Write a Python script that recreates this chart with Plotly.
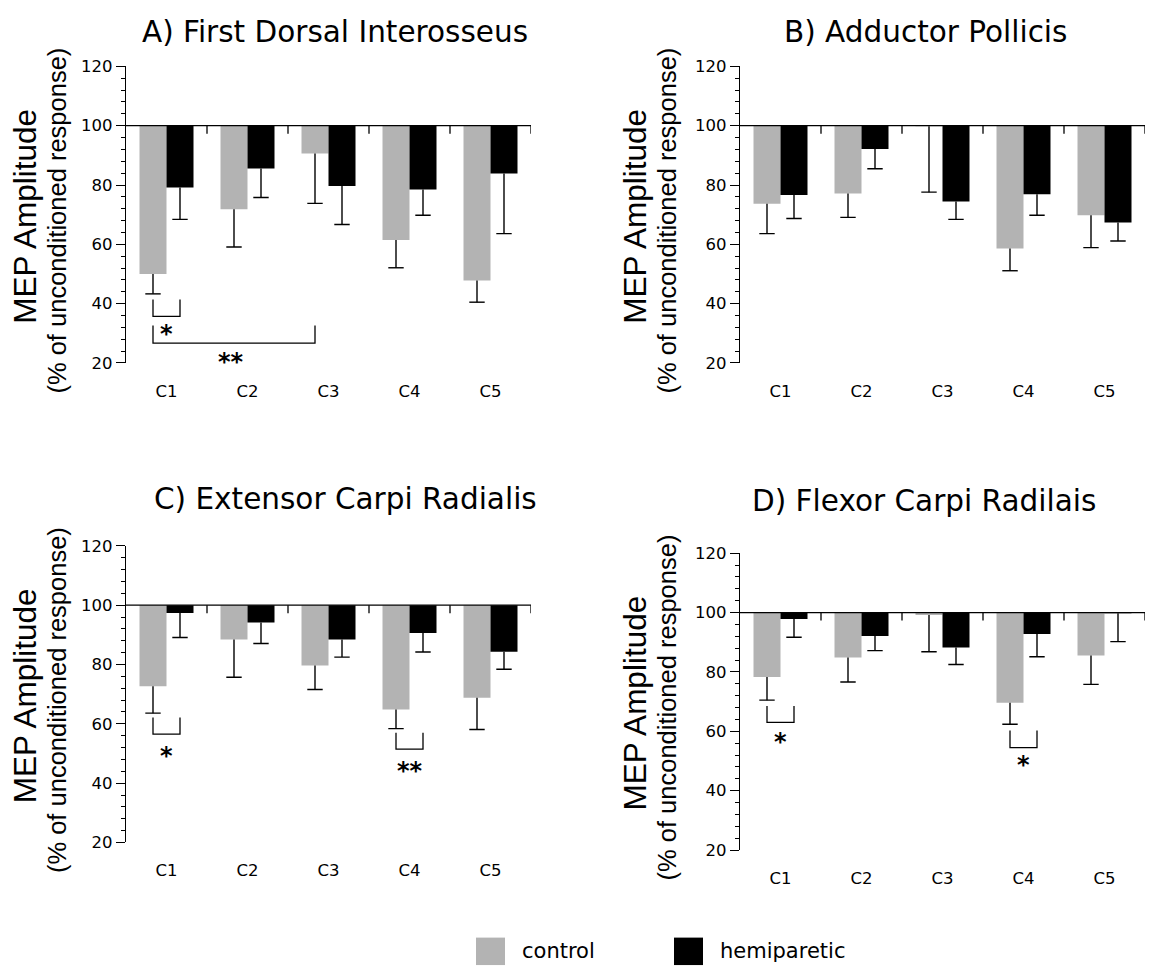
import plotly.graph_objects as go

W, H = 1149, 978

categories = ["C1", "C2", "C3", "C4", "C5"]
cat_pos = [0, 1, 2, 3, 4]
series_names = ["control", "hemiparetic"]
panel_titles = ["A) First Dorsal Interosseus", "B) Adductor Pollicis",
                "C) Extensor Carpi Radialis", "D) Flexor Carpi Radilais"]
y_title_1 = "MEP Amplitude"
y_title_2 = "(% of unconditioned response)"

# values (% of unconditioned response), error = SE (downward)
a_control = [50.0, 71.8, 90.6, 61.5, 47.8]
a_control_err = [6.7, 12.7, 16.8, 9.4, 7.3]
a_hemi = [79.2, 85.6, 79.7, 78.5, 83.9]
a_hemi_err = [10.8, 9.8, 13.0, 8.7, 20.3]

b_control = [73.7, 77.1, 99.8, 58.6, 69.8]
b_control_err = [10.1, 8.0, 22.2, 7.5, 10.9]
b_hemi = [76.6, 92.1, 74.4, 76.9, 67.4]
b_hemi_err = [7.9, 6.6, 6.0, 7.1, 6.3]

c_control = [72.7, 88.4, 79.7, 64.8, 68.8]
c_control_err = [9.1, 12.7, 8.1, 6.4, 10.7]
c_hemi = [97.4, 94.2, 88.4, 90.6, 84.3]
c_hemi_err = [8.3, 7.1, 5.9, 6.4, 5.9]

d_control = [78.3, 84.9, 99.2, 69.6, 85.5]
d_control_err = [7.8, 8.3, 12.4, 7.2, 9.7]
d_hemi = [97.8, 92.1, 88.2, 92.8, 99.8]
d_hemi_err = [6.1, 4.9, 5.7, 7.7, 9.6]

# significance brackets: (panel, left cat, left series, right cat, right series, top, bottom, label, label x, label y)
brackets = [
    (0, 0, 0, 0, 1, 41.4, 35.7, "*", 0.0, 31.6),
    (0, 0, 0, 2, 0, 32.6, 26.7, "**", 0.8, 22.0),
    (2, 0, 0, 0, 1, 62.1, 56.5, "*", 0.0, 50.9),
    (2, 3, 0, 3, 1, 57.0, 51.5, "**", 3.0, 45.9),
    (3, 0, 0, 0, 1, 68.5, 63.0, "*", 0.0, 58.1),
    (3, 3, 0, 3, 1, 60.3, 54.5, "*", 3.0, 50.3),
]

panels = [
    (a_control, a_control_err, a_hemi, a_hemi_err),
    (b_control, b_control_err, b_hemi, b_hemi_err),
    (c_control, c_control_err, c_hemi, c_hemi_err),
    (d_control, d_control_err, d_hemi, d_hemi_err),
]

# ---- layout geometry (pixels) ----
px_boxes = [  # x0, x1, ytop, ybottom
    (126, 531, 58.5, 361.0),
    (740, 1145, 58.5, 361.0),
    (126, 531, 547.5, 850.0),
    (740, 1145, 555.0, 857.7),
]
title_pos = [(335, 23), (925, 23), (345, 500), (924, 502)]
ytitle_x = [(25, 57), (635, 667), (25, 57), (635, 667)]

GRAY = "#b3b3b3"
BLACK = "#000000"
colors = [GRAY, BLACK]
BAR_W = 1 / 3
offsets = [-BAR_W, 0.0]
HFONT = "DejaVu Sans"
VFONT = "Liberation Sans, Arial"

fig = go.Figure()
shapes = []
annotations = []

for p, (cv, ce, hv, he) in enumerate(panels):
    n = p + 1
    xa = "x" if n == 1 else f"x{n}"
    ya = "y" if n == 1 else f"y{n}"
    for s, (vals, errs) in enumerate([(cv, ce), (hv, he)]):
        fig.add_trace(go.Bar(
            x=cat_pos, y=[v - 100 for v in vals], base=100,
            width=BAR_W, offset=offsets[s],
            marker=dict(color=colors[s], line=dict(width=0)),
            name=series_names[s], showlegend=False,
            xaxis=xa, yaxis=ya,
        ))
        centers = [c + offsets[s] + BAR_W / 2 for c in cat_pos]
        lx, ly = [], []
        for c, v, e in zip(centers, vals, errs):
            lx += [c, c, None]
            ly += [v, v - e, None]
        fig.add_trace(go.Scatter(
            x=lx, y=ly, mode="lines", line=dict(color=BLACK, width=1.4),
            showlegend=False, hoverinfo="skip", xaxis=xa, yaxis=ya))
        fig.add_trace(go.Scatter(
            x=centers, y=[v - e for v, e in zip(vals, errs)], mode="markers",
            marker=dict(symbol="line-ew", size=11, line=dict(color=BLACK, width=1.4)),
            showlegend=False, hoverinfo="skip", xaxis=xa, yaxis=ya))

    x0, x1, yt, yb = px_boxes[p]
    xd = [x0 / W, x1 / W]
    yd = [1 - yb / H, 1 - yt / H]
    key = "" if n == 1 else str(n)
    fig.layout["xaxis" + key] = dict(
        domain=xd, range=[-0.5, 4.5], anchor=ya,
        tickmode="array", tickvals=cat_pos, ticktext=categories,
        ticks="outside", ticklen=13, tickcolor="rgba(0,0,0,0)",
        showline=False, showgrid=False, zeroline=False,
        tickfont=dict(family=HFONT, size=16.5, color=BLACK), fixedrange=True)
    fig.layout["yaxis" + key] = dict(
        domain=yd, range=[20, 120], anchor=xa,
        tickmode="linear", tick0=20, dtick=20,
        ticks="outside", ticklen=9, tickwidth=1.3, tickcolor=BLACK,
        minor=dict(tickmode="linear", tick0=20, dtick=4, ticks="outside", ticklen=4,
                   tickwidth=1.1, tickcolor=BLACK),
        showline=True, linewidth=1.3, linecolor=BLACK,
        showgrid=False, zeroline=False,
        tickfont=dict(family=HFONT, size=16.5, color=BLACK), fixedrange=True)

    # horizontal axis line at 100 with boundary ticks
    shapes.append(dict(type="line", xref=xa, yref=ya, x0=-0.5, x1=4.5, y0=100, y1=100,
                       line=dict(color=BLACK, width=1.3), layer="above"))
    for b in [0.5, 1.5, 2.5, 3.5, 4.5]:
        shapes.append(dict(type="line", xref=xa, yref=ya, x0=b, x1=b,
                           ysizemode="pixel", yanchor=100, y0=0, y1=-8,
                           line=dict(color=BLACK, width=1.3)))

    tx, ty = title_pos[p]
    annotations.append(dict(text=panel_titles[p], xref="paper", yref="paper",
                            x=tx / W, y=1 - ty / H, xanchor="center", yanchor="middle",
                            showarrow=False, font=dict(family=HFONT, size=29.5, color=BLACK)))
    ycen = (yt + yb) / 2
    l1x, l2x = ytitle_x[p]
    annotations.append(dict(text=y_title_1, xref="paper", yref="paper",
                            x=l1x / W, y=1 - (ycen + 2) / H, xanchor="center", yanchor="middle",
                            textangle=-90, showarrow=False,
                            font=dict(family=VFONT, size=31.5, color=BLACK)))
    annotations.append(dict(text=y_title_2, xref="paper", yref="paper",
                            x=l2x / W, y=1 - (ycen + 6) / H, xanchor="center", yanchor="middle",
                            textangle=-90, showarrow=False,
                            font=dict(family=VFONT, size=25.5, color=BLACK)))

# significance brackets
for (p, c1, s1, c2, s2, top, bot, lab, labx, laby) in brackets:
    n = p + 1
    xa = "x" if n == 1 else f"x{n}"
    ya = "y" if n == 1 else f"y{n}"
    xl = c1 + offsets[s1] + BAR_W / 2
    xr = c2 + offsets[s2] + BAR_W / 2
    shapes.append(dict(type="path", xref=xa, yref=ya,
                       path=f"M {xl},{top} L {xl},{bot} L {xr},{bot} L {xr},{top}",
                       line=dict(color=BLACK, width=1.3)))
    annotations.append(dict(text=f"<b>{lab}</b>", xref=xa, yref=ya, x=labx, y=laby,
                            xanchor="center", yanchor="middle", yshift=-5, showarrow=False,
                            font=dict(family=HFONT, size=24, color=BLACK)))

# legend (swatches + labels)
legend_items = [(476, 505, 520), (674, 703, 718)]
for (sx0, sx1, tx), col, name in zip(legend_items, colors, series_names):
    shapes.append(dict(type="rect", xref="paper", yref="paper",
                       x0=sx0 / W, x1=sx1 / W, y0=1 - 975 / H, y1=1 - 947 / H,
                       fillcolor=col, line=dict(width=0)))
    annotations.append(dict(text=name, xref="paper", yref="paper", x=tx / W, y=1 - 961 / H,
                            xanchor="left", yanchor="middle", showarrow=False,
                            font=dict(family=HFONT, size=21, color=BLACK)))

fig.update_layout(
    width=W, height=H, margin=dict(l=0, r=0, t=0, b=0),
    paper_bgcolor="white", plot_bgcolor="white",
    barmode="overlay", showlegend=False,
    shapes=shapes, annotations=annotations,
    font=dict(family=HFONT, color=BLACK),
)

fig.write_html("out.html")
